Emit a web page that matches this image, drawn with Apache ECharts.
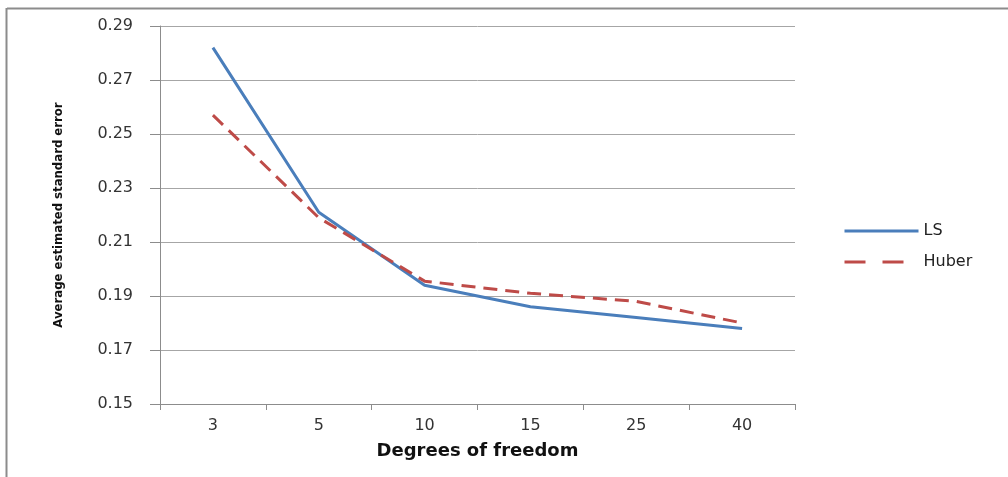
<!DOCTYPE html>
<html><head><meta charset="utf-8">
<script src="https://cdn.jsdelivr.net/npm/echarts@6/dist/echarts.min.js"></script>
<style>html,body{margin:0;padding:0;background:#fff}#c{width:1008px;height:477px}</style>
</head><body><div id="c"></div>
<script>
const categories = ['3','5','10','15','25','40'];
const lsValues = [0.282, 0.221, 0.194, 0.186, 0.182, 0.178];
const huberValues = [0.257, 0.219, 0.1955, 0.191, 0.188, 0.180];
const yTicks = [0.15, 0.17, 0.19, 0.21, 0.23, 0.25, 0.27, 0.29];

const chart = echarts.init(document.getElementById('c'));
chart.setOption({
  animation: false,
  backgroundColor: '#fff',
  graphic: [
    {type:'line', shape:{x1:7,y1:8.5,x2:1008,y2:8.5}, style:{stroke:'#8c8c8c', lineWidth:2}},
    {type:'line', shape:{x1:6.5,y1:8,x2:6.5,y2:477}, style:{stroke:'#8c8c8c', lineWidth:2}}
  ],
  grid: {left:160, right:213, top:26, bottom:73, containLabel:false},
  legend: {
    orient:'vertical', left:838, top:218, itemWidth:74, itemHeight:14, itemGap:15,
    itemStyle:{opacity:0},
    lineStyle:{width:3},
    textStyle:{fontFamily:'DejaVu Sans', fontSize:16, color:'#222'},
    data:[
      {name:'LS'},
      {name:'Huber', lineStyle:{type:[21,17], width:3}}
    ]
  },
  xAxis: {
    type:'category', data:categories, boundaryGap:true,
    name:'Degrees of freedom', nameLocation:'middle', nameGap:38,
    nameTextStyle:{fontFamily:'DejaVu Sans', fontWeight:'bold', fontSize:18, color:'#111'},
    axisLine:{lineStyle:{color:'#8c8c8c', width:1}},
    axisTick:{show:true, length:6, lineStyle:{color:'#8c8c8c'}},
    axisLabel:{fontFamily:'DejaVu Sans', fontSize:16, color:'#333', margin:14}
  },
  yAxis: {
    type:'value', min:0.15, max:0.29, interval:0.02,
    name:'Average estimated standard error', nameLocation:'middle', nameGap:95, nameRotate:90,
    nameTextStyle:{fontFamily:'DejaVu Sans Condensed, Liberation Sans', fontWeight:'bold', fontSize:13, color:'#111'},
    axisLine:{show:true, lineStyle:{color:'#8c8c8c', width:1}},
    axisTick:{show:true, length:10, lineStyle:{color:'#8c8c8c'}},
    axisLabel:{fontFamily:'DejaVu Sans', fontSize:16, color:'#333', margin:27,
      formatter:v=>{const t=yTicks.find(x=>Math.abs(x-v)<1e-9);return t!==undefined?t.toFixed(2):'';}},
    splitLine:{lineStyle:{color:'#a6a6a6', width:1}}
  },
  series: [
    {name:'LS', type:'line', data:lsValues, symbol:'none', color:'#4A7EBB',
      lineStyle:{color:'#4A7EBB', width:3}},
    {name:'Huber', type:'line', data:huberValues, symbol:'none', color:'#BE4B48',
      lineStyle:{color:'#BE4B48', width:3, type:[14,8]}}
  ]
});
</script></body></html>
